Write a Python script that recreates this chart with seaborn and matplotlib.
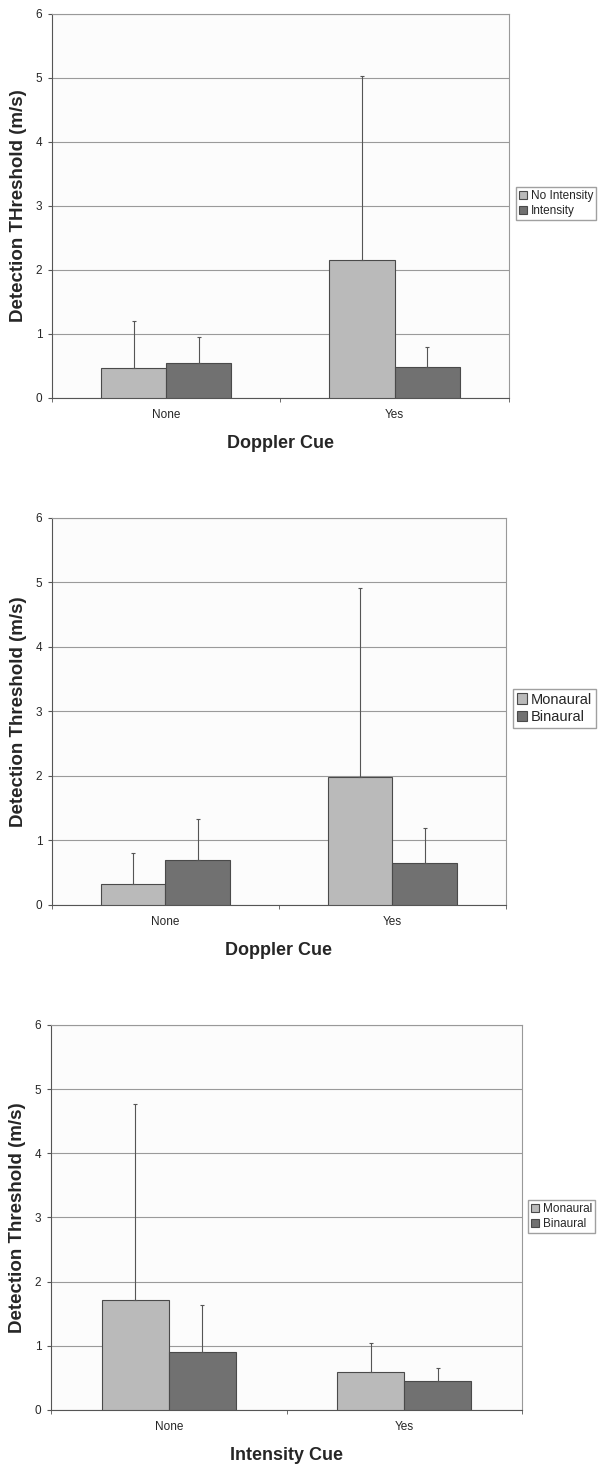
import pandas as pd
import matplotlib
matplotlib.use('Agg')
import matplotlib.pyplot as plt
import seaborn as sns

# data
cues = ['None', 'Yes']

p1_series = ['No Intensity', 'Intensity']
p1_means = {'No Intensity': [0.47, 2.15], 'Intensity': [0.54, 0.49]}
p1_tops = {'No Intensity': [1.20, 5.03], 'Intensity': [0.96, 0.80]}

p2_series = ['Monaural', 'Binaural']
p2_means = {'Monaural': [0.32, 1.98], 'Binaural': [0.70, 0.65]}
p2_tops = {'Monaural': [0.81, 4.92], 'Binaural': [1.34, 1.19]}

p3_series = ['Monaural', 'Binaural']
p3_means = {'Monaural': [1.71, 0.59], 'Binaural': [0.90, 0.45]}
p3_tops = {'Monaural': [4.77, 1.04], 'Binaural': [1.63, 0.66]}

sns.set_style('white')
plt.rcParams['font.family'] = ['Liberation Sans', 'DejaVu Sans']

light = '#bababa'
dark = '#717171'

fig = plt.figure(figsize=(6.01, 14.67), dpi=100)


def make_df(series, means):
    rows = []
    for s in series:
        for c, v in zip(cues, means[s]):
            rows.append({'cue': c, 'group': s, 'value': v})
    return pd.DataFrame(rows)


def panel(rect, series, means, tops, ylabel, xlabel, leg_anchor, leg_size):
    ax = fig.add_axes(rect)
    df = make_df(series, means)
    sns.barplot(data=df, x='cue', y='value', hue='group', order=cues,
                hue_order=series, palette=[light, dark], width=0.57,
                errorbar=None, edgecolor='#4a4a4a', linewidth=0.8,
                saturation=1, ax=ax, zorder=3)
    # upward-only error bars
    for s, cont in zip(series, ax.containers):
        for bar, m, t in zip(cont, means[s], tops[s]):
            xc = bar.get_x() + bar.get_width() / 2
            ax.errorbar(xc, m, yerr=[[0], [t - m]], fmt='none',
                        ecolor='#555555', elinewidth=0.8, capsize=1.5,
                        capthick=0.8, zorder=4)
    ax.set_facecolor('#fcfcfc')
    ax.set_xlim(-0.5, 1.5)
    ax.set_ylim(0, 6)
    ax.set_yticks(range(0, 7))
    ax.grid(axis='y', color='#9a9a9a', linewidth=0.8, zorder=0)
    ax.set_axisbelow(True)
    for sp in ax.spines.values():
        sp.set_color('#999999')
        sp.set_linewidth(0.8)
    ax.spines['left'].set_color('#555555')
    ax.spines['bottom'].set_color('#555555')
    ax.tick_params(axis='y', labelsize=8.5, length=3, color='#555555',
                   left=True, pad=4)
    ax.tick_params(axis='x', which='major', labelsize=8.5, length=0, pad=8)
    ax.set_xticks([-0.5, 0.5, 1.5], minor=True)
    ax.tick_params(axis='x', which='minor', length=3, color='#555555',
                   bottom=True)
    ax.set_ylabel(ylabel, fontsize=13.5, fontweight='bold', labelpad=6)
    ax.set_xlabel(xlabel, fontsize=13, fontweight='bold', labelpad=10)
    handles, labels = ax.get_legend_handles_labels()
    ax.legend(handles, labels, loc='upper left', bbox_to_anchor=leg_anchor,
              bbox_transform=fig.transFigure, fontsize=leg_size,
              frameon=True, fancybox=False, edgecolor='#888888',
              handlelength=0.7, handleheight=0.7, handletextpad=0.3,
              borderpad=0.25, labelspacing=0.25, borderaxespad=0)
    return ax


panel([0.0865, 0.7287, 0.760, 0.2618], p1_series, p1_means, p1_tops,
      'Detection THreshold (m/s)', 'Doppler Cue', (0.8586, 0.8725), 8.5)
panel([0.0865, 0.3831, 0.7554, 0.2638], p2_series, p2_means, p2_tops,
      'Detection Threshold (m/s)', 'Doppler Cue', (0.8536, 0.5303), 10.5)
panel([0.0849, 0.0389, 0.7837, 0.2624], p3_series, p3_means, p3_tops,
      'Detection Threshold (m/s)', 'Intensity Cue', (0.8785, 0.182), 8.5)

fig.savefig('out.png', dpi=100)
